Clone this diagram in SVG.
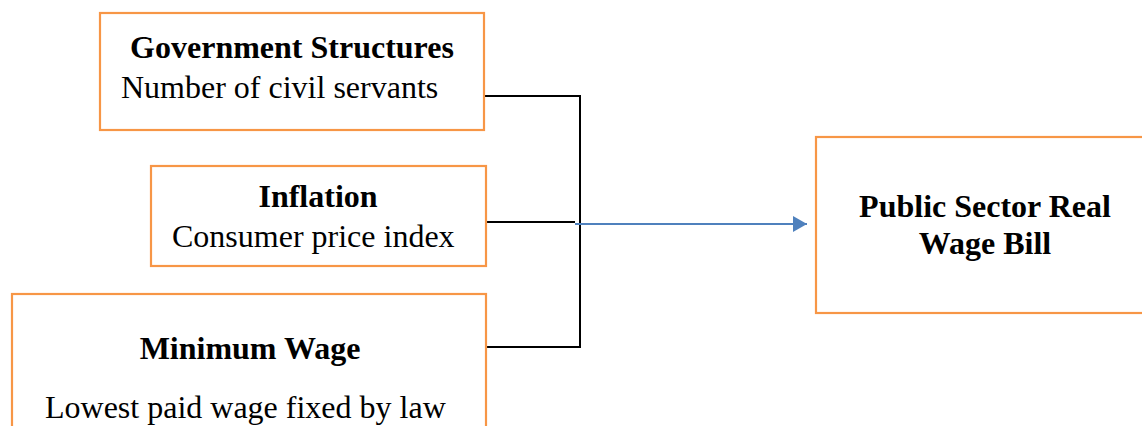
<svg xmlns="http://www.w3.org/2000/svg" width="1142" height="426" viewBox="0 0 1142 426">
<style>
.box{fill:#fff;stroke:#F79646;stroke-width:2.2}
text{font-family:'Liberation Serif','Times New Roman',Times,serif;font-size:32px;fill:#000}
.b{font-weight:bold;text-anchor:middle}
.ln{fill:none;stroke:#000;stroke-width:2}
.ar{fill:none;stroke:#4F81BD;stroke-width:2}
</style>
<defs>
<marker id="ah" markerUnits="userSpaceOnUse" markerWidth="16" markerHeight="16" refX="14" refY="8" orient="auto">
<path d="M0,0 L14,8 L0,16 Z" fill="#4F81BD"/>
</marker>
</defs>
<g id="connectors">
<polyline class="ln" points="484,96 580,96 580,347 486,347"/>
<line class="ln" x1="486" y1="222" x2="575" y2="222"/>
<line class="ar" x1="575" y1="224" x2="807" y2="224" marker-end="url(#ah)"/>
</g>
<g id="gov">
<rect class="box" x="100" y="13" width="384" height="117"/>
<text class="b" x="292" y="58" font-family="Liberation Serif, serif">Government Structures</text>
<text x="121" y="98" font-family="Liberation Serif, serif">Number of civil servants</text>
</g>
<g id="inflation">
<rect class="box" x="151" y="166" width="335" height="100"/>
<text class="b" x="318" y="207">Inflation</text>
<text x="172" y="247">Consumer price index</text>
</g>
<g id="minwage">
<rect class="box" x="12" y="294" width="474" height="150"/>
<text class="b" x="250" y="359">Minimum Wage</text>
<text x="45" y="418">Lowest paid wage fixed by law</text>
</g>
<g id="wagebill">
<rect class="box" x="816" y="137" width="340" height="176"/>
<text class="b" x="985" y="217">Public Sector Real</text>
<text class="b" x="985" y="254">Wage Bill</text>
</g>
</svg>
